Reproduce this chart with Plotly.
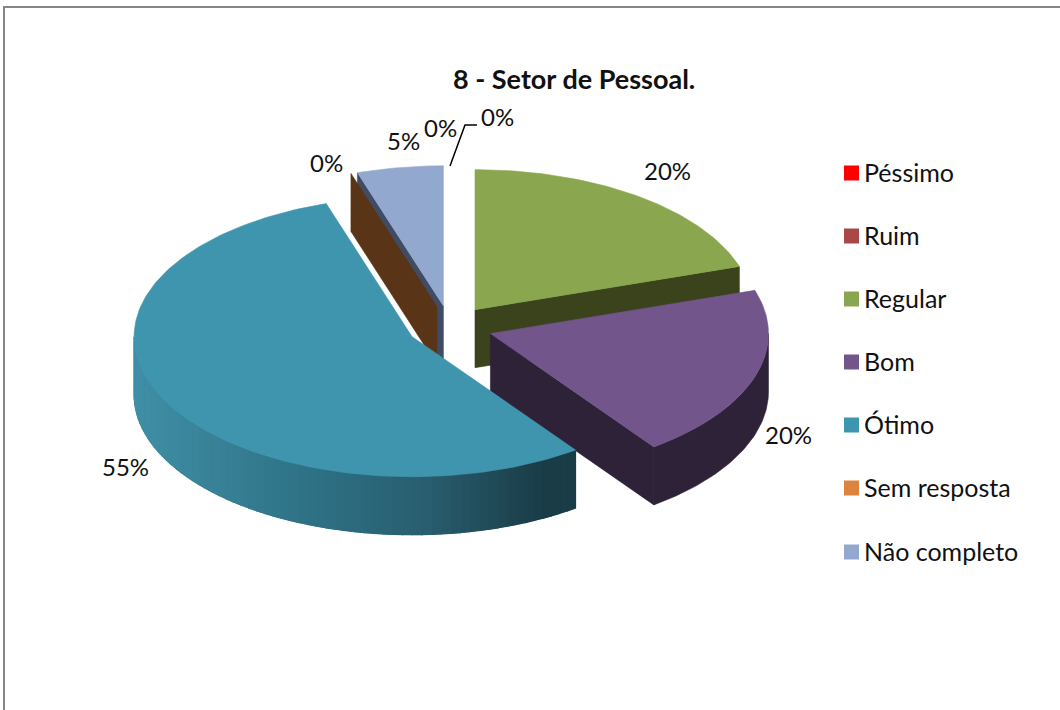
import math
import plotly.graph_objects as go

# Data
title = "8 - Setor de Pessoal."
categories = ["Péssimo", "Ruim", "Regular", "Bom", "Ótimo", "Sem resposta", "Não completo"]
values = [0, 0, 20, 20, 55, 0, 5]
top_colors = ["#ff0000", "#a94846", "#8aa64e", "#72558b", "#4095ae", "#dc843e", "#93a8cf"]
wall_colors = ["#800000", "#55231f", "#3a431b", "#2d2238", None, "#5a3417", "#3f4c63"]

# Layout of the projected pie (pixels)
W, H = 1060, 710
CX, CY, RX, RY, DEPTH, EXPLODE = 450, 327, 278, 140, 58, 0.153
FONT = "Lato"
draw_order = ["Regular", "Não completo", "Sem resposta", "Bom", "Ótimo"]
label_pos = {"Péssimo": (440, 127.5), "Ruim": (497, 116.5), "Regular": (667, 170.5), "Bom": (788, 434.5),
             "Ótimo": (125, 466.5), "Sem resposta": (326, 162.5), "Não completo": (403, 140.5)}
legend_ys = [172, 235, 298, 361, 424, 487, 551]
gradient_stops = [(134, (64, 143, 166)), (300, (47, 115, 135)), (430, (40, 93, 110)), (540, (26, 60, 71)), (580, (26, 60, 71))]

total = sum(values)
fig = go.Figure()


def poly(pts, color, lw=0.6):
    xs = [p[0] for p in pts] + [pts[0][0]]
    ys = [p[1] for p in pts] + [pts[0][1]]
    fig.add_trace(go.Scatter(x=xs, y=ys, mode="lines", fill="toself", fillcolor=color,
                             line=dict(color=color, width=lw), hoverinfo="skip", showlegend=False))


def gradient(x):
    for (x0, c0), (x1, c1) in zip(gradient_stops, gradient_stops[1:]):
        if x <= x1:
            t = max(0, (x - x0) / (x1 - x0))
            return "rgb(%d,%d,%d)" % tuple(round(a + (b - a) * t) for a, b in zip(c0, c1))
    return "rgb(%d,%d,%d)" % gradient_stops[-1][1]


# Angular spans derived from the values
spans = {}
acc = 0
for cat, v in zip(categories, values):
    a0 = acc / total * 360
    acc += v
    spans[cat] = (a0, acc / total * 360)


def draw_slice(i):
    cat = categories[i]
    a0, a1 = spans[cat]
    mid = math.radians((a0 + a1) / 2)
    ox = CX + EXPLODE * RX * math.sin(mid)
    oy = CY - EXPLODE * RY * math.cos(mid)

    def pt(a, d=0):
        r = math.radians(a)
        return (ox + RX * math.sin(r), oy - RY * math.cos(r) + d)

    def radial(a, color):
        poly([(ox, oy), pt(a), pt(a, DEPTH), (ox, oy + DEPTH)], color)

    if 180 < a0 < 360:
        radial(a0, wall_colors[i] or gradient(ox))
    if 0 < a1 < 180:
        radial(a1, wall_colors[i] or gradient(ox))
    # outer rim (front half only)
    lo, hi = max(a0, 90), min(a1, 270)
    if hi > lo:
        n = max(2, int(hi - lo))
        steps = [lo + (hi - lo) * j / n for j in range(n + 1)]
        if wall_colors[i]:
            poly([pt(a) for a in steps] + [pt(a, DEPTH) for a in reversed(steps)], wall_colors[i])
        else:
            # base under the shaded bands hides anti-aliasing seams
            poly([pt(a) for a in steps] + [pt(a, DEPTH) for a in reversed(steps)], gradient(350), 0.6)
            coarse = steps[::2] + ([steps[-1]] if (len(steps) - 1) % 2 else [])
            for s0, s1 in zip(coarse, coarse[1:]):
                poly([pt(s0), pt(s1), pt(s1, DEPTH), pt(s0, DEPTH)],
                     gradient((pt(s0)[0] + pt(s1)[0]) / 2), 1.2)
    if values[i] > 0:
        n = max(2, int(a1 - a0))
        poly([(ox, oy)] + [pt(a0 + (a1 - a0) * j / n) for j in range(n + 1)], top_colors[i])


for cat in draw_order:
    draw_slice(categories.index(cat))

# Leader line for the zero label
fig.add_trace(go.Scatter(x=[450, 465, 477], y=[166, 125, 125], mode="lines",
                         line=dict(color="#000000", width=1.5), hoverinfo="skip", showlegend=False))

# Legend keys
fig.add_trace(go.Scatter(x=[851.5] * len(categories), y=[173, 236, 299, 362, 425, 488, 552], mode="markers",
                         marker=dict(symbol="square", size=15, color=top_colors, line=dict(width=0)),
                         hoverinfo="skip", showlegend=False))

for cat, v, ly in zip(categories, values, legend_ys):
    fig.add_annotation(x=862, y=ly, text=cat, showarrow=False, xanchor="left", yanchor="middle",
                       font=dict(family=FONT, size=25, color="#111111"))
    lx, lyy = label_pos[cat]
    fig.add_annotation(x=lx, y=lyy, text=f"{v}%", showarrow=False, xanchor="center", yanchor="middle",
                       font=dict(family=FONT, size=24, color="#111111"))

fig.add_annotation(x=574, y=78, text=f"<b>{title}</b>", showarrow=False, xanchor="center", yanchor="middle",
                   font=dict(family=FONT, size=27, color="#111111"))

fig.update_layout(
    width=W, height=H, margin=dict(l=0, r=0, t=0, b=0), autosize=False,
    paper_bgcolor="white", plot_bgcolor="white", showlegend=False,
    xaxis=dict(range=[0, W], visible=False, fixedrange=True),
    yaxis=dict(range=[H, 0], visible=False, fixedrange=True),
    shapes=[dict(type="path", path=f"M 4 {H} L 4 7 L {W} 7", line=dict(color="#868686", width=2))],
)
fig.write_html("out.html", config={"displayModeBar": False},
               post_script="document.body.style.margin='0';document.body.style.overflow='hidden';")
